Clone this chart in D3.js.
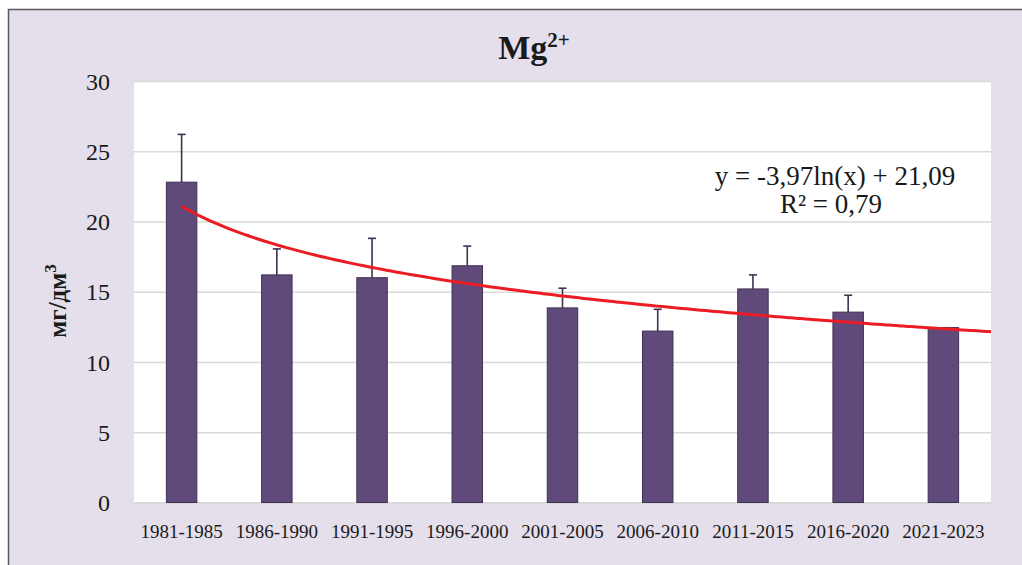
<!DOCTYPE html>
<html>
<head>
<meta charset="utf-8">
<script src="https://cdn.jsdelivr.net/npm/d3@7"></script>
<style>
  html, body { margin: 0; padding: 0; background: #ffffff; }
  svg { display: block; }
</style>
</head>
<body>
<svg id="chart" width="1022" height="565"></svg>
<script>
const categories = ["1981-1985","1986-1990","1991-1995","1996-2000","2001-2005","2006-2010","2011-2015","2016-2020","2021-2023"];
const values = [22.8, 16.2, 16.0, 16.85, 13.85, 12.2, 15.2, 13.55, 12.45];
const errors = [3.4, 1.85, 2.8, 1.4, 1.4, 1.55, 1.0, 1.2, 0];
const yTicks = [0, 5, 10, 15, 20, 25, 30];
const trendA = -3.97, trendB = 21.09;
const trendText = ["y = -3,97ln(x) + 21,09", "R² = 0,79"];

const svg = d3.select("#chart");
const W = 1022, H = 565;
const m = { left: 134, right: 991, top: 81, bottom: 502.5 };

// background and frame
svg.append("rect").attr("x", 0).attr("y", 0).attr("width", W).attr("height", H).attr("fill", "#ffffff");
svg.append("rect").attr("x", 8.5).attr("y", 9.5).attr("width", W + 10).attr("height", H + 10)
  .attr("fill", "#e5dfec").attr("stroke", "#5a5a5a").attr("stroke-width", 1.5);

// plot area
svg.append("rect").attr("x", m.left).attr("y", m.top).attr("width", m.right - m.left).attr("height", m.bottom - m.top)
  .attr("fill", "#ffffff");

const x = d3.scaleBand().domain(categories).range([m.left, m.right]).paddingInner(0.68).paddingOuter(0.34);
const xi = d3.scaleLinear().domain([0.5, categories.length + 0.5]).range([m.left, m.right]);
const y = d3.scaleLinear().domain([0, 30]).range([m.bottom, m.top]);

// gridlines + y labels
const yAxis = svg.append("g").attr("transform", `translate(${m.left},0)`)
  .call(d3.axisLeft(y).tickValues(yTicks).tickSize(-(m.right - m.left)).tickPadding(24).tickFormat(d3.format("d")));
yAxis.select(".domain").remove();
yAxis.selectAll(".tick line").attr("stroke", "#d9d9d9").attr("stroke-width", 1.5);
yAxis.selectAll(".tick text").attr("font-family", "'Liberation Serif', 'Times New Roman', serif")
  .attr("font-size", 24).attr("fill", "#1a1a1a").attr("dy", "0.34em");

// x labels
const xAxis = svg.append("g").attr("transform", `translate(0,${m.bottom})`)
  .call(d3.axisBottom(x).tickSize(0).tickPadding(22));
xAxis.select(".domain").attr("stroke", "#d9d9d9").attr("stroke-width", 1.5);
xAxis.selectAll(".tick text").attr("font-family", "'Liberation Serif', 'Times New Roman', serif")
  .attr("font-size", 19).attr("fill", "#1a1a1a");

// error bars (upper only)
const eb = svg.append("g");
categories.forEach((c, i) => {
  if (!errors[i]) return;
  const cx = x(c) + x.bandwidth() / 2;
  eb.append("line").attr("x1", cx).attr("x2", cx).attr("y1", y(values[i])).attr("y2", y(values[i] + errors[i]))
    .attr("stroke", "#3f3151").attr("stroke-width", 1.6);
  eb.append("line").attr("x1", cx - 4).attr("x2", cx + 4).attr("y1", y(values[i] + errors[i])).attr("y2", y(values[i] + errors[i]))
    .attr("stroke", "#3f3151").attr("stroke-width", 1.6);
});

// bars
svg.append("g").selectAll("rect").data(categories).join("rect")
  .attr("x", c => x(c))
  .attr("y", (c, i) => y(values[i]))
  .attr("width", x.bandwidth())
  .attr("height", (c, i) => y(0) - y(values[i]))
  .attr("fill", "#604a7b")
  .attr("stroke", "#3f3151")
  .attr("stroke-width", 1);

// logarithmic trendline
const tPts = d3.range(1, categories.length + 0.5001, 0.05).map(t => [t, trendA * Math.log(t) + trendB]);
svg.append("path").datum(tPts)
  .attr("d", d3.line().x(d => xi(d[0])).y(d => y(d[1])).curve(d3.curveMonotoneX))
  .attr("fill", "none").attr("stroke", "#ec1c24").attr("stroke-width", 3);

// equation
const eq = svg.append("text").attr("font-family", "'Liberation Serif', 'Times New Roman', serif")
  .attr("font-size", 27).attr("fill", "#1a1a1a").attr("text-anchor", "middle");
eq.append("tspan").attr("x", 835).attr("y", 185).text(trendText[0]);
eq.append("tspan").attr("x", 831).attr("y", 213).text(trendText[1]);

// title
const title = svg.append("text").attr("x", 534).attr("y", 59).attr("text-anchor", "middle")
  .attr("font-family", "'Liberation Serif', 'Times New Roman', serif").attr("font-weight", "bold").attr("fill", "#1a1a1a");
title.append("tspan").attr("font-size", 34).text("Mg");
title.append("tspan").attr("font-size", 21).attr("dy", -12).text("2+");

// y axis title
const yt = svg.append("text").attr("transform", "translate(66,301) rotate(-90)").attr("text-anchor", "middle")
  .attr("font-family", "'Liberation Serif', 'Times New Roman', serif").attr("font-weight", "bold").attr("fill", "#1a1a1a");
yt.append("tspan").attr("font-size", 25).text("мг/дм");
yt.append("tspan").attr("font-size", 17).attr("dy", -10).text("3");
</script>
</body>
</html>
